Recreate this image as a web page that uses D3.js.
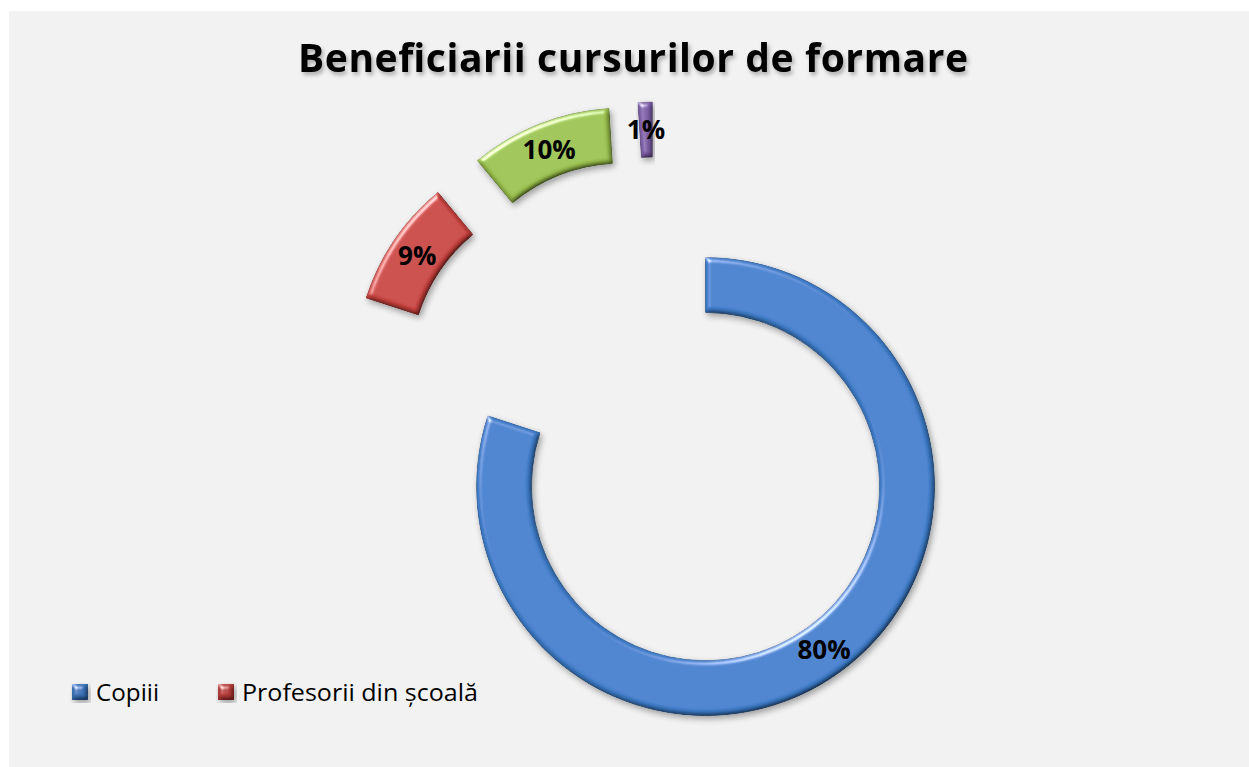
<!DOCTYPE html>
<html>
<head>
<meta charset="utf-8">
<script src="https://cdn.jsdelivr.net/npm/d3@7"></script>
<style>
  body { margin: 0; background: #fff; }
  svg { display: block; }
</style>
</head>
<body>
<div id="vis"></div>
<script>
var categorii = ["Copiii", "Profesorii din școală", "Părinții", "Alții"];
var procente = [80, 9, 10, 1];
var culori = ["#3f7ecb", "#c9433f", "#9cc24f", "#7f5fa8"];
var titlu = "Beneficiarii cursurilor de formare";

var W = 1249, H = 767;
var cx = 655, cy = 417, rOut = 229, rIn = 174, explodare = 86;

var svg = d3.select("div#vis").append("svg")
  .attr("width", W)
  .attr("height", H);

var defs = svg.append("defs");

// bevel + umbra, cam ca stilul din Office
var f = defs.append("filter").attr("id", "bevel")
  .attr("x", "-10%").attr("y", "-10%").attr("width", "125%").attr("height", "125%");
f.append("feGaussianBlur").attr("in", "SourceAlpha").attr("stdDeviation", 2.5).attr("result", "blur");
var dif = f.append("feDiffuseLighting").attr("in", "blur")
  .attr("surfaceScale", 4).attr("diffuseConstant", 1)
  .attr("lighting-color", "#ffffff").attr("result", "dif");
dif.append("feDistantLight").attr("azimuth", 235).attr("elevation", 60);
f.append("feComposite").attr("in", "SourceGraphic").attr("in2", "dif").attr("operator", "arithmetic")
  .attr("k1", 1.15).attr("k2", 0).attr("k3", 0).attr("k4", 0).attr("result", "shaded");
var spec = f.append("feSpecularLighting").attr("in", "blur")
  .attr("surfaceScale", 4).attr("specularConstant", 0.7).attr("specularExponent", 22)
  .attr("lighting-color", "#ffffff").attr("result", "spec");
spec.append("feDistantLight").attr("azimuth", 235).attr("elevation", 30);
f.append("feComposite").attr("in", "spec").attr("in2", "SourceAlpha").attr("operator", "in").attr("result", "specIn");
f.append("feComposite").attr("in", "shaded").attr("in2", "specIn").attr("operator", "arithmetic")
  .attr("k1", 0).attr("k2", 1).attr("k3", 1).attr("k4", 0).attr("result", "lit");
f.append("feComposite").attr("in", "lit").attr("in2", "SourceAlpha").attr("operator", "in").attr("result", "litIn");
f.append("feOffset").attr("in", "SourceAlpha").attr("dx", 2).attr("dy", 3).attr("result", "off");
f.append("feGaussianBlur").attr("in", "off").attr("stdDeviation", 3).attr("result", "offBlur");
f.append("feComponentTransfer").attr("in", "offBlur").attr("result", "shadow")
  .append("feFuncA").attr("type", "linear").attr("slope", 0.35);
var m = f.append("feMerge");
m.append("feMergeNode").attr("in", "shadow");
m.append("feMergeNode").attr("in", "litIn");

var ts = defs.append("filter").attr("id", "umbraText")
  .attr("x", "-5%").attr("y", "-20%").attr("width", "110%").attr("height", "160%");
ts.append("feDropShadow").attr("dx", 2).attr("dy", 3).attr("stdDeviation", 2)
  .attr("flood-color", "#000").attr("flood-opacity", 0.3);

// fundal
svg.append("rect")
  .attr("x", 9).attr("y", 11)
  .attr("width", W - 9).attr("height", H - 11)
  .style("fill", "#f2f2f2");

// titlu
svg.append("text")
  .attr("x", 633).attr("y", 72)
  .attr("text-anchor", "middle")
  .attr("textLength", 670).attr("lengthAdjust", "spacing")
  .style("font-family", "'Open Sans', sans-serif")
  .style("font-weight", "bold")
  .style("font-size", "39px")
  .style("fill", "#000")
  .attr("filter", "url(#umbraText)")
  .text(titlu);

var date = categorii.map(function(c, i) { return { cat: c, val: procente[i], culoare: culori[i] }; });

var pie = d3.pie().sort(null).value(function(d) { return d.val; });
var arc = d3.arc().innerRadius(rIn).outerRadius(rOut);
var arcEticheta = d3.arc().innerRadius((rIn + rOut) / 2).outerRadius((rIn + rOut) / 2);

var felii = svg.selectAll("g.felie").data(pie(date)).enter().append("g")
  .attr("class", "felie")
  .attr("transform", function(d) {
    var a = (d.startAngle + d.endAngle) / 2;
    return "translate(" + (cx + explodare * Math.sin(a)) + "," + (cy - explodare * Math.cos(a)) + ")";
  });

felii.append("path")
  .attr("d", arc)
  .style("fill", function(d) { return d.data.culoare; })
  .style("stroke", function(d) { return d3.color(d.data.culoare).darker(0.6); })
  .style("stroke-width", 0.8)
  .attr("filter", "url(#bevel)");

felii.append("text")
  .attr("transform", function(d) { return "translate(" + arcEticheta.centroid(d) + ")"; })
  .attr("text-anchor", "middle")
  .attr("dy", "0.36em")
  .style("font-family", "'Open Sans', sans-serif")
  .style("font-weight", "bold")
  .style("font-size", "26px")
  .style("fill", "#000")
  .text(function(d) { return d.data.val + "%"; });

// legenda (doar primele doua intrari sunt vizibile)
var leg = [{ x: 72, w: 63 }, { x: 218, w: 236 }];
var legenda = svg.selectAll("g.leg").data(date.slice(0, 2)).enter().append("g")
  .attr("class", "leg")
  .attr("transform", function(d, i) { return "translate(" + leg[i].x + ",684)"; });

legenda.append("rect")
  .attr("width", 16).attr("height", 16)
  .style("fill", function(d) { return d3.color(d.culoare).darker(0.3); })
  .attr("filter", "url(#bevel)");

legenda.append("text")
  .attr("x", 24).attr("y", 17)
  .attr("textLength", function(d, i) { return leg[i].w; })
  .attr("lengthAdjust", "spacingAndGlyphs")
  .style("font-family", "'Open Sans', sans-serif")
  .style("font-size", "24px")
  .style("fill", "#000")
  .text(function(d) { return d.cat; });
</script>
</body>
</html>
